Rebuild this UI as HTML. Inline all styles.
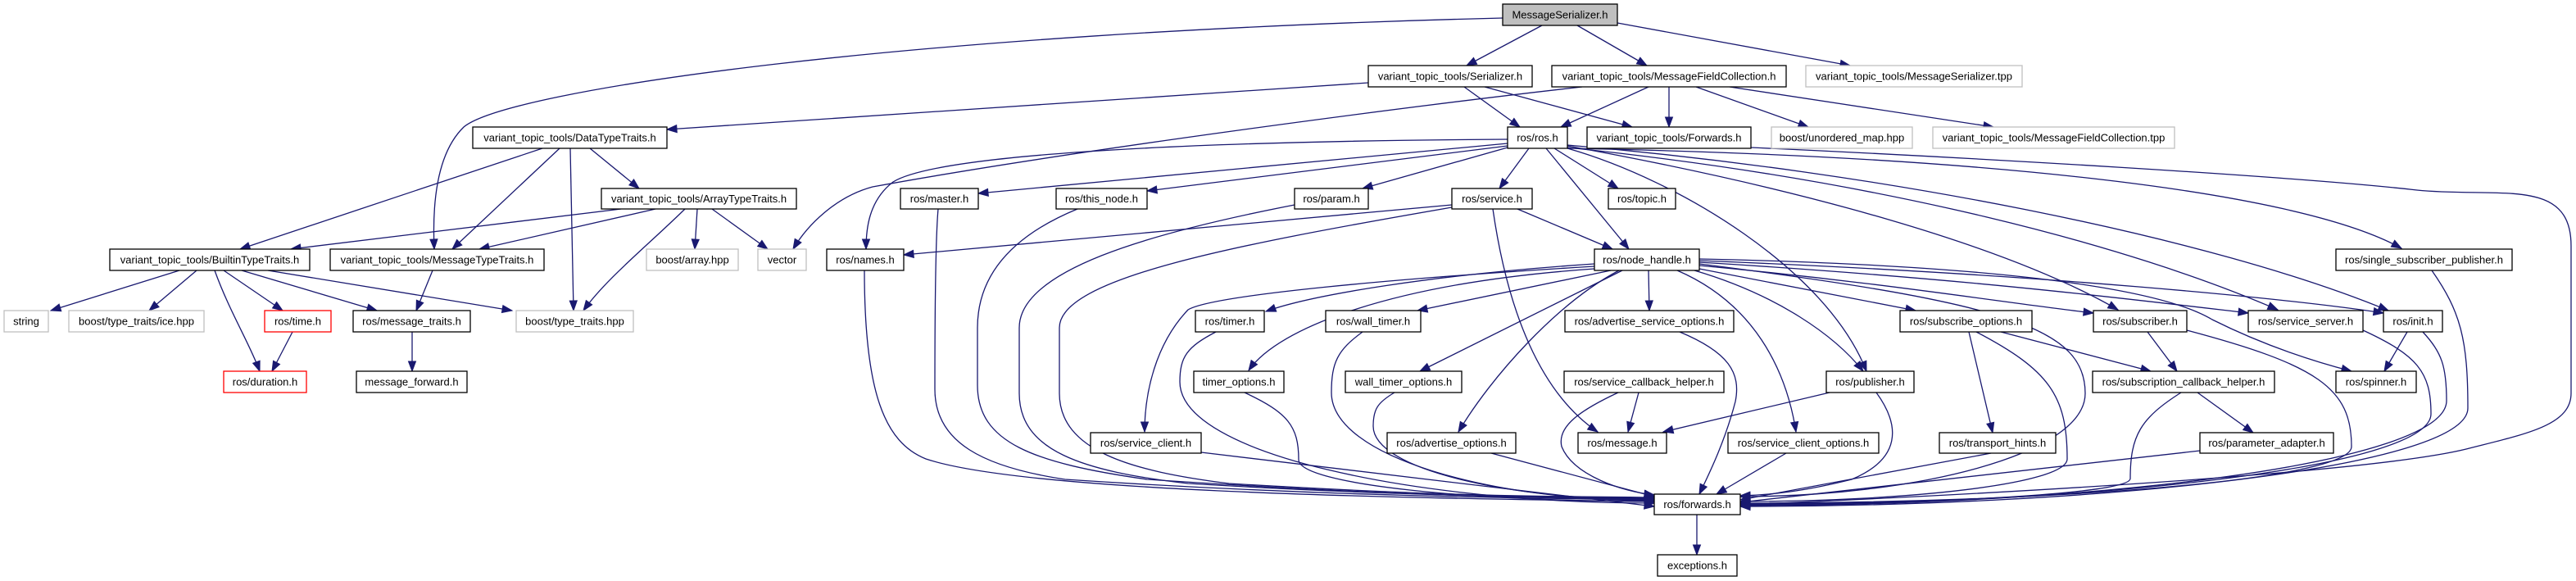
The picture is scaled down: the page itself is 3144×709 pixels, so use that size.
<!DOCTYPE html>
<html><head><meta charset="utf-8"><style>
html,body{margin:0;padding:0;background:#fff;width:3144px;height:709px;overflow:hidden}
svg{display:block}
text{font-family:"Liberation Sans",sans-serif;font-size:13px;fill:#000}
</style></head><body>
<svg id="s" width="3144" height="709" viewBox="0 0 3144 709" xmlns="http://www.w3.org/2000/svg">
<g id="edges" fill="none" stroke="#191970" stroke-width="1.3"></g>
<g id="heads" fill="#191970" stroke="#191970" stroke-width="1"></g>
<g id="nodes" stroke-width="1.3">
<rect x="1834" y="5" width="140" height="26" fill="#bfbfbf" stroke="#000"/><text x="1904" y="22.5" text-anchor="middle">MessageSerializer.h</text>
<rect x="1670" y="80" width="200" height="26" fill="#fff" stroke="#000"/><text x="1770" y="97.5" text-anchor="middle">variant_topic_tools/Serializer.h</text>
<rect x="1894" y="80" width="286" height="26" fill="#fff" stroke="#000"/><text x="2037" y="97.5" text-anchor="middle">variant_topic_tools/MessageFieldCollection.h</text>
<rect x="2204" y="80" width="264" height="26" fill="#fff" stroke="#bfbfbf"/><text x="2336" y="97.5" text-anchor="middle">variant_topic_tools/MessageSerializer.tpp</text>
<rect x="577" y="155" width="237" height="26" fill="#fff" stroke="#000"/><text x="695.5" y="172.5" text-anchor="middle">variant_topic_tools/DataTypeTraits.h</text>
<rect x="1840" y="155" width="73" height="26" fill="#fff" stroke="#000"/><text x="1876.5" y="172.5" text-anchor="middle">ros/ros.h</text>
<rect x="1937" y="155" width="200" height="26" fill="#fff" stroke="#000"/><text x="2037" y="172.5" text-anchor="middle">variant_topic_tools/Forwards.h</text>
<rect x="2162" y="155" width="172" height="26" fill="#fff" stroke="#bfbfbf"/><text x="2248" y="172.5" text-anchor="middle">boost/unordered_map.hpp</text>
<rect x="2359" y="155" width="295" height="26" fill="#fff" stroke="#bfbfbf"/><text x="2506.5" y="172.5" text-anchor="middle">variant_topic_tools/MessageFieldCollection.tpp</text>
<rect x="734" y="230" width="238" height="25" fill="#fff" stroke="#000"/><text x="853" y="247" text-anchor="middle">variant_topic_tools/ArrayTypeTraits.h</text>
<rect x="1099" y="230" width="95" height="25" fill="#fff" stroke="#000"/><text x="1146.5" y="247" text-anchor="middle">ros/master.h</text>
<rect x="1289" y="230" width="111" height="25" fill="#fff" stroke="#000"/><text x="1344.5" y="247" text-anchor="middle">ros/this_node.h</text>
<rect x="1580" y="230" width="90" height="25" fill="#fff" stroke="#000"/><text x="1625" y="247" text-anchor="middle">ros/param.h</text>
<rect x="1772" y="230" width="98" height="25" fill="#fff" stroke="#000"/><text x="1821" y="247" text-anchor="middle">ros/service.h</text>
<rect x="1963" y="230" width="82" height="25" fill="#fff" stroke="#000"/><text x="2004" y="247" text-anchor="middle">ros/topic.h</text>
<rect x="134" y="304" width="244" height="26" fill="#fff" stroke="#000"/><text x="256" y="321.5" text-anchor="middle">variant_topic_tools/BuiltinTypeTraits.h</text>
<rect x="403" y="304" width="261" height="26" fill="#fff" stroke="#000"/><text x="533.5" y="321.5" text-anchor="middle">variant_topic_tools/MessageTypeTraits.h</text>
<rect x="789" y="304" width="112" height="26" fill="#fff" stroke="#bfbfbf"/><text x="845" y="321.5" text-anchor="middle">boost/array.hpp</text>
<rect x="925" y="304" width="59" height="26" fill="#fff" stroke="#bfbfbf"/><text x="954.5" y="321.5" text-anchor="middle">vector</text>
<rect x="1009" y="304" width="94" height="26" fill="#fff" stroke="#000"/><text x="1056" y="321.5" text-anchor="middle">ros/names.h</text>
<rect x="1946" y="304" width="128" height="26" fill="#fff" stroke="#000"/><text x="2010" y="321.5" text-anchor="middle">ros/node_handle.h</text>
<rect x="2851" y="304" width="215" height="26" fill="#fff" stroke="#000"/><text x="2958.5" y="321.5" text-anchor="middle">ros/single_subscriber_publisher.h</text>
<rect x="5" y="379" width="54" height="26" fill="#fff" stroke="#bfbfbf"/><text x="32" y="396.5" text-anchor="middle">string</text>
<rect x="84" y="379" width="165" height="26" fill="#fff" stroke="#bfbfbf"/><text x="166.5" y="396.5" text-anchor="middle">boost/type_traits/ice.hpp</text>
<rect x="323" y="379" width="81" height="26" fill="#fff" stroke="#ff0000"/><text x="363.5" y="396.5" text-anchor="middle">ros/time.h</text>
<rect x="431" y="379" width="143" height="26" fill="#fff" stroke="#000"/><text x="502.5" y="396.5" text-anchor="middle">ros/message_traits.h</text>
<rect x="630" y="379" width="143" height="26" fill="#fff" stroke="#bfbfbf"/><text x="701.5" y="396.5" text-anchor="middle">boost/type_traits.hpp</text>
<rect x="1459" y="379" width="84" height="26" fill="#fff" stroke="#000"/><text x="1501" y="396.5" text-anchor="middle">ros/timer.h</text>
<rect x="1618" y="379" width="116" height="26" fill="#fff" stroke="#000"/><text x="1676" y="396.5" text-anchor="middle">ros/wall_timer.h</text>
<rect x="1910" y="379" width="206" height="26" fill="#fff" stroke="#000"/><text x="2013" y="396.5" text-anchor="middle">ros/advertise_service_options.h</text>
<rect x="2319" y="379" width="161" height="26" fill="#fff" stroke="#000"/><text x="2399.5" y="396.5" text-anchor="middle">ros/subscribe_options.h</text>
<rect x="2555" y="379" width="114" height="26" fill="#fff" stroke="#000"/><text x="2612" y="396.5" text-anchor="middle">ros/subscriber.h</text>
<rect x="2744" y="379" width="140" height="26" fill="#fff" stroke="#000"/><text x="2814" y="396.5" text-anchor="middle">ros/service_server.h</text>
<rect x="2909" y="379" width="72" height="26" fill="#fff" stroke="#000"/><text x="2945" y="396.5" text-anchor="middle">ros/init.h</text>
<rect x="273" y="453" width="101" height="26" fill="#fff" stroke="#ff0000"/><text x="323.5" y="470.5" text-anchor="middle">ros/duration.h</text>
<rect x="435" y="453" width="135" height="26" fill="#fff" stroke="#000"/><text x="502.5" y="470.5" text-anchor="middle">message_forward.h</text>
<rect x="1457" y="453" width="110" height="26" fill="#fff" stroke="#000"/><text x="1512" y="470.5" text-anchor="middle">timer_options.h</text>
<rect x="1642" y="453" width="142" height="26" fill="#fff" stroke="#000"/><text x="1713" y="470.5" text-anchor="middle">wall_timer_options.h</text>
<rect x="1909" y="453" width="195" height="26" fill="#fff" stroke="#000"/><text x="2006.5" y="470.5" text-anchor="middle">ros/service_callback_helper.h</text>
<rect x="2229" y="453" width="107" height="26" fill="#fff" stroke="#000"/><text x="2282.5" y="470.5" text-anchor="middle">ros/publisher.h</text>
<rect x="2554" y="453" width="222" height="26" fill="#fff" stroke="#000"/><text x="2665" y="470.5" text-anchor="middle">ros/subscription_callback_helper.h</text>
<rect x="2851" y="453" width="98" height="26" fill="#fff" stroke="#000"/><text x="2900" y="470.5" text-anchor="middle">ros/spinner.h</text>
<rect x="1331" y="528" width="135" height="25" fill="#fff" stroke="#000"/><text x="1398.5" y="545" text-anchor="middle">ros/service_client.h</text>
<rect x="1693" y="528" width="157" height="25" fill="#fff" stroke="#000"/><text x="1771.5" y="545" text-anchor="middle">ros/advertise_options.h</text>
<rect x="1926" y="528" width="108" height="25" fill="#fff" stroke="#000"/><text x="1980" y="545" text-anchor="middle">ros/message.h</text>
<rect x="2109" y="528" width="184" height="25" fill="#fff" stroke="#000"/><text x="2201" y="545" text-anchor="middle">ros/service_client_options.h</text>
<rect x="2367" y="528" width="142" height="25" fill="#fff" stroke="#000"/><text x="2438" y="545" text-anchor="middle">ros/transport_hints.h</text>
<rect x="2685" y="528" width="163" height="25" fill="#fff" stroke="#000"/><text x="2766.5" y="545" text-anchor="middle">ros/parameter_adapter.h</text>
<rect x="2019" y="603" width="105" height="25" fill="#fff" stroke="#000"/><text x="2071.5" y="620" text-anchor="middle">ros/forwards.h</text>
<rect x="2023" y="677" width="97" height="26" fill="#fff" stroke="#000"/><text x="2071.5" y="694.5" text-anchor="middle">exceptions.h</text>
</g>
</svg>
<script>
var E=document.getElementById('edges'),H=document.getElementById('heads'),NS='http://www.w3.org/2000/svg';
function head(px,py,tx,ty){var dx=tx-px,dy=ty-py,l=Math.sqrt(dx*dx+dy*dy)||1;dx/=l;dy/=l;var L=12,W=4.5;
var bx=tx-dx*L,by=ty-dy*L;var p=document.createElementNS(NS,'polygon');
p.setAttribute('points',tx+','+ty+' '+(bx-dy*W)+','+(by+dx*W)+' '+(bx+dy*W)+','+(by-dx*W));H.appendChild(p);}
function path(d){var p=document.createElementNS(NS,'path');p.setAttribute('d',d);E.appendChild(p);}
function Ln(sx,sy,tx,ty){path('M'+sx+','+sy+'L'+tx+','+ty);head(sx,sy,tx,ty);}
function V(sx,sy,tx,ty){var m=(sy+ty)/2;path('M'+sx+','+sy+'C'+sx+','+m+' '+tx+','+m+' '+tx+','+ty);head(tx,m,tx,ty);}
function B(sx,sy,cx,cy,tx,ty){var a1x=sx+(cx-sx)*0.8,a1y=sy+(cy-sy)*0.3,a2y=cy-(cy-sy)*0.5,b1y=cy+(ty-cy)*0.6,b2x=cx+(tx-cx)*0.5;
path('M'+sx+','+sy+'C'+a1x+','+a1y+' '+cx+','+a2y+' '+cx+','+cy+'C'+cx+','+b1y+' '+b2x+','+ty+' '+tx+','+ty);head(b2x,ty,tx,ty);}
function P(d,px,py,tx,ty){path(d);head(px,py,tx,ty);}
// top
Ln(1882,31,1790,80);Ln(1925,31,2010,80);Ln(1974,28,2258,80);
P('M1834,22 C1100,40 620,110 566,155 C530,190 528,260 530,304',528,260,530,304);
Ln(1787,106,1855,155);Ln(1812,106,1992,155);
P('M1670,101 C1300,125 1000,145 814,158',1000,145,814,158);
Ln(2012,106,1905,155);Ln(2037,106,2037,155);Ln(2070,106,2207,155);Ln(2111,106,2433,155);
P('M1931,106 C1700,132 1300,185 1065,228 C1020,240 985,275 968,304',985,275,968,304);
// type traits
Ln(662,181,293,304);Ln(683,181,552,304);Ln(696,181,700,379);Ln(720,181,780,230);
Ln(758,255,355,304);Ln(800,255,585,304);
P('M836,255 C790,300 740,340 712,379',740,340,712,379);
Ln(851,255,848,304);Ln(869,255,937,304);
Ln(219,330,62,379);Ln(240,330,182,379);
P('M262,330 C280,380 305,420 317,453',305,420,317,453);
Ln(273,330,345,379);Ln(295,330,460,379);Ln(327,330,625,379);
Ln(528,330,508,379);Ln(357,405,332,453);Ln(503,405,503,453);
// ros.h
P('M1840,170 C1500,172 1150,185 1090,222 C1060,245 1057,280 1057,304',1057,280,1057,304);
Ln(1840,175,1194,236);Ln(1840,178,1400,233);Ln(1840,180,1663,230);
Ln(1866,181,1830,230);Ln(1897,181,1975,230);Ln(1887,181,1988,304);
P('M1913,181 C2050,220 2230,330 2278,453',2230,330,2278,453);
P('M1913,178 C2200,230 2450,300 2585,378',2450,300,2585,378);
P('M1913,180 C2300,220 2600,300 2780,378',2600,300,2780,378);
P('M1913,177 C2300,210 2700,290 2915,379',2700,290,2915,379);
P('M1913,181 C2400,190 2800,230 2931,303',2800,230,2931,303);
P('M2137,180 C2400,192 2800,215 2950,232 C3050,242 3138,215 3138,300 L3138,480 C3138,520 3080,530 3010,548 C2900,575 2500,600 2124,616',2500,600,2124,616);
// node_handle
Ln(1966,330,1730,379);
P('M1946,322 C1750,335 1600,360 1545,380',1600,360,1545,380);
P('M1946,325 C1700,340 1480,360 1450,378 C1410,420 1397,480 1397,527',1397,480,1397,527);
P('M1946,328 C1700,345 1560,400 1524,452',1560,400,1524,452);
Ln(1980,330,1733,453);
P('M1976,330 C1900,370 1820,460 1780,527',1820,460,1780,527);
Ln(2012,330,2013,379);
P('M2047,330 C2140,370 2180,450 2192,527',2180,450,2192,527);
P('M2068,330 C2170,360 2240,410 2274,453',2240,410,2274,453);
Ln(2074,328,2338,379);
P('M2074,324 C2300,345 2450,370 2555,382',2450,370,2555,382);
P('M2074,320 C2400,340 2600,365 2744,382',2600,365,2744,382);
P('M2074,318 C2500,335 2800,365 2909,382',2800,365,2909,382);
P('M2074,316 C2500,325 2650,360 2700,390 C2760,420 2820,440 2870,453',2820,440,2870,453);
B(2074,322,2545,480,2124,606);
// service.h
Ln(1772,250,1103,311);Ln(1852,255,1968,304);
P('M1822,255 C1840,380 1880,480 1950,527',1880,480,1950,527);
// to forwards from left
P('M1055,330 C1055,480 1080,540 1130,560 C1250,600 1700,608 2019,612',1700,608,2019,612);
P('M1145,255 C1141,300 1141,420 1141,475 C1141,540 1200,570 1300,585 C1600,605 1850,608 2019,610',1850,608,2019,610);
P('M1315,255 C1230,290 1193,340 1193,400 L1193,470 C1193,540 1260,565 1400,585 C1700,605 1850,607 2019,609',1850,607,2019,609);
P('M1580,250 C1400,285 1244,330 1244,400 L1244,480 C1244,550 1320,575 1450,590 C1700,605 1850,606 2019,608',1850,606,2019,608);
P('M1772,253 C1500,300 1293,340 1293,400 L1293,480 C1293,550 1380,575 1500,590 C1750,605 1880,606 2019,607',1880,606,2019,607);
Ln(1466,552,2019,618);
B(1484,405,1440,466,2019,614);
B(1519,479,1585,561,2019,612);
B(1663,405,1625,479,2019,611);
B(1702,479,1676,520,2019,610);
Ln(1820,553,2019,606);
P('M2050,405 C2110,430 2125,455 2118,490 C2105,540 2085,580 2074,603',2085,580,2074,603);
Ln(2000,479,1987,527);
P('M1975,479 C1930,500 1900,520 1906,545 C1920,580 1980,600 2019,604',1980,600,2019,604);
Ln(2233,479,2030,527);
P('M2290,479 C2320,520 2320,560 2260,585 C2200,600 2160,604 2124,605',2160,604,2124,605);
Ln(2180,553,2095,603);
// right side
Ln(2403,405,2432,528);Ln(2442,405,2625,453);
B(2412,405,2523,560,2124,612);
Ln(2430,553,2124,610);
Ln(2621,405,2657,453);
B(2669,403,2870,545,2124,614);
Ln(2682,479,2750,528);
B(2662,479,2600,584,2124,615);
Ln(2685,550,2124,613);
B(2884,403,2967,505,2124,616);
Ln(2938,405,2910,453);
B(2957,405,2986,489,2124,617);
B(2968,330,3012,498,2124,618);
Ln(2071,628,2071,677);
</script>
</body></html>
